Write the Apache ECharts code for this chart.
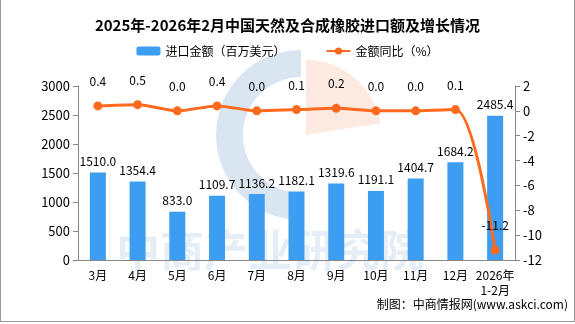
<!DOCTYPE html>
<html><head><meta charset="utf-8">
<script src="https://cdn.jsdelivr.net/npm/echarts@6/dist/echarts.min.js"></script>
<style>html,body{margin:0;padding:0;background:#fff}#c{width:573px;height:321px;border:1px solid #999;border-top:none;border-right:2px solid #999}</style>
</head><body><div id="c"></div>
<script>
const categories = ['3月','4月','5月','6月','7月','8月','9月','10月','11月','12月','2026年\n1-2月'];
const importValues = [1510.0,1354.4,833.0,1109.7,1136.2,1182.1,1319.6,1191.1,1404.7,1684.2,2485.4];
const growthValues = [0.4,0.5,0.0,0.4,0.0,0.1,0.2,0.0,0.0,0.1,-11.2];
const chart = echarts.init(document.getElementById('c'));
const font = '"Noto Sans CJK SC", sans-serif';
chart.setOption({
  animation:false,
  title:{text:'2025年-2026年2月中国天然及合成橡胶进口额及增长情况',left:'center',top:13,textStyle:{fontFamily:font,fontSize:15,fontWeight:'bold',color:'#000'}},
  legend:{top:40,left:'center',itemGap:40,itemWidth:24,itemHeight:9,textStyle:{fontFamily:font,fontSize:12,color:'#000'},data:['进口金额（百万美元）','金额同比（%）']},
  graphic:[
    {type:'sector',z:-1,shape:{cx:300,cy:135,r:85,r0:58,startAngle:Math.PI*0.5,endAngle:Math.PI*1.5},style:{fill:'rgba(170,200,225,0.45)'}},
    {type:'sector',z:-1,shape:{cx:305,cy:135,r:75,r0:0,startAngle:-Math.PI*0.5,endAngle:-Math.PI*0.05},style:{fill:'rgba(245,195,170,0.35)'}},
    {type:'text',z:-1,left:115,top:228,style:{text:'中商产业研究院',font:'bold 44px "Noto Sans CJK SC"',fill:'rgba(180,205,230,0.35)'}},
    {type:'text',right:6,top:298,style:{text:'制图：中商情报网(www.askci.com)',font:'12px "Noto Sans CJK SC"',fill:'#000'}}
  ],
  grid:{left:77,right:59,top:86,bottom:61},
  xAxis:{type:'category',data:categories,axisLine:{lineStyle:{color:'#888'}},axisTick:{lineStyle:{color:'#888'}},axisLabel:{fontFamily:font,fontSize:12,color:'#000',interval:0,lineHeight:15}},
  yAxis:[
    {type:'value',min:0,max:3000,interval:500,splitLine:{show:false},axisLine:{show:true,lineStyle:{color:'#888'}},axisTick:{show:true,lineStyle:{color:'#888'}},axisLabel:{fontFamily:font,fontSize:13,color:'#000',formatter:v=>String(v)}},
    {type:'value',min:-12,max:2,interval:2,splitLine:{show:false},axisLine:{show:true,lineStyle:{color:'#888'}},axisTick:{show:true,lineStyle:{color:'#888'}},axisLabel:{fontFamily:font,fontSize:13,color:'#000',formatter:v=>String(v)}}
  ],
  series:[
    {name:'进口金额（百万美元）',type:'bar',data:importValues,barWidth:16,itemStyle:{color:'#3d9df0'},label:{show:true,position:'top',fontFamily:font,fontSize:12,color:'#000',formatter:p=>p.value.toFixed(1)}},
    {name:'金额同比（%）',type:'line',yAxisIndex:1,data:growthValues,smooth:0.3,symbol:'circle',symbolSize:9,lineStyle:{color:'#ff6a1f',width:3},itemStyle:{color:'#ff6a1f'},label:{show:true,position:'top',distance:14,fontFamily:font,fontSize:12,color:'#000',formatter:p=>p.value.toFixed(1)}}
  ]
});
</script></body></html>
